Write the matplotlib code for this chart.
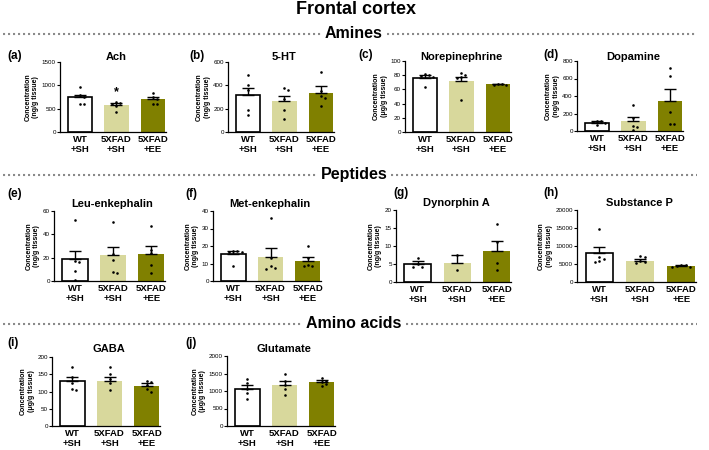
import matplotlib
matplotlib.use("Agg")
import matplotlib.pyplot as plt
import numpy as np

plt.rcParams['font.family'] = ['Liberation Sans', 'DejaVu Sans']

W, H = 709, 450

# ---------------- data ----------------
groups = ["WT\n+SH", "5XFAD\n+SH", "5XFAD\n+EE"]
bar_colors = ["white", "#d8d89c", "#808000"]

ach_mean = [748, 575, 700]
ach_sem = [52, 40, 55]
ach_pts = [[970, 790, 740, 610, 600], [650, 630, 610, 430, 565], [840, 760, 710, 600, 590]]
ach_star = [None, 850, None]

ht_mean = [315, 262, 335]
ht_sem = [60, 49, 57]
ht_pts = [[490, 400, 360, 185, 150], [380, 360, 285, 185, 110], [515, 350, 310, 290, 220]]

ne_mean = [76, 72.5, 67]
ne_sem = [4, 5.5, 0.6]
ne_pts = [[81, 80, 79, 78, 63], [83, 80, 78, 76, 45], [68, 67, 66.5, 66]]

da_mean = [93, 113, 347]
da_sem = [20, 52, 134]
da_pts = [[120, 110, 100, 90, 65], [300, 150, 55, 45, 15], [725, 625, 215, 85, 85]]

leu_mean = [18.5, 22, 23.3]
leu_sem = [7.5, 7, 6.7]
leu_pts = [[52, 17, 16, 8.5, 1], [51, 23, 18, 8, 7], [47, 27, 24, 13.5, 7]]

met_mean = [15.5, 14, 11.7]
met_sem = [1.8, 4.6, 2]
met_pts = [[17.2, 17, 16.8, 16.5, 8.7], [36, 13, 8.7, 7.5, 6.8], [19.8, 13, 9, 8.8, 8.5]]

dyn_mean = [5.0, 5.35, 8.7]
dyn_sem = [0.7, 2.15, 2.8]
dyn_pts = [[6.7, 5, 4.3, 4.2], [7.5, 3.2], [16, 11, 5.4, 3.2]]

sp_mean = [8100, 5950, 4480]
sp_sem = [1500, 450, 250]
sp_pts = [[14700, 7000, 6300, 5800, 5500], [7100, 6900, 5800, 5500, 5200], [4800, 4700, 4500, 4300, 4200]]

gaba_mean = [130, 131, 117]
gaba_sem = [11, 11, 7]
gaba_pts = [[172, 143, 124, 107, 103], [170, 150, 135, 125, 105], [130, 127, 118, 108, 100]]

glu_mean = [1065, 1185, 1252]
glu_sem = [100, 90, 50]
glu_pts = [[1355, 1232, 1043, 929, 758], [1479, 1290, 1166, 1060, 900], [1370, 1300, 1260, 1200, 1130]]

panels = [
    # label, title, unit, ymax, ystep, mean, sem, pts, rect(l,t,r,b), label pos, star
    ("(a)", "Ach", "ng/g", 1500, 500, ach_mean, ach_sem, ach_pts, (60, 62, 166, 132), (7, 56), ach_star),
    ("(b)", "5-HT", "ng/g", 600, 200, ht_mean, ht_sem, ht_pts, (228, 62, 334, 132), (189, 56), None),
    ("(c)", "Norepinephrine", "μg/g", 100, 20, ne_mean, ne_sem, ne_pts, (405, 61, 511, 132), (358, 55), None),
    ("(d)", "Dopamine", "ng/g", 800, 200, da_mean, da_sem, da_pts, (577, 61, 683, 131), (543, 55), None),
    ("(e)", "Leu-enkephalin", "ng/g", 60, 20, leu_mean, leu_sem, leu_pts, (54, 211, 165, 281), (7, 194), None),
    ("(f)", "Met-enkephalin", "ng/g", 40, 10, met_mean, met_sem, met_pts, (213, 211, 321, 281), (185, 194), None),
    ("(g)", "Dynorphin A", "ng/g", 20, 5, dyn_mean, dyn_sem, dyn_pts, (396, 210, 511, 282), (393, 193), None),
    ("(h)", "Substance P", "ng/g", 20000, 5000, sp_mean, sp_sem, sp_pts, (577, 210, 696, 282), (543, 193), None),
    ("(i)", "GABA", "μg/g", 200, 50, gaba_mean, gaba_sem, gaba_pts, (52, 357, 160, 426), (7, 343), None),
    ("(j)", "Glutamate", "μg/g", 2000, 500, glu_mean, glu_sem, glu_pts, (227, 356, 335, 426), (185, 343), None),
]

sections = [("Amines", 34), ("Peptides", 175), ("Amino acids", 324)]

# ---------------- figure ----------------
fig = plt.figure(figsize=(W / 100, H / 100), dpi=100)


def fx(x):
    return x / W


def fy(y):
    return 1 - y / H


def swarm(vals, ymax, d=0.11):
    order = np.argsort(vals)[::-1]
    placed = []
    xs = np.zeros(len(vals))
    thr = 0.05 * ymax
    for i in order:
        v = vals[i]
        for off in [0, d, -d, 2 * d, -2 * d, 3 * d]:
            if all(not (abs(po - off) < 0.5 * d and abs(pv - v) < thr) for po, pv in placed):
                xs[i] = off
                placed.append((off, v))
                break
    return xs


fig.text(fx(356), fy(10), "Frontal cortex", ha="center", va="center",
         fontsize=13, fontweight="bold")

fig.canvas.draw()
renderer = fig.canvas.get_renderer()
for name, yc in sections:
    t = fig.text(fx(354), fy(yc - 1), name, ha="center", va="center",
                 fontsize=11.5, fontweight="bold")
    bb = t.get_window_extent(renderer)
    x0, x1 = bb.x0, bb.x1
    for (a, b) in [(3, x0 - 4), (x1 + 4, 697)]:
        fig.add_artist(plt.Line2D([fx(a), fx(b)], [fy(yc), fy(yc)],
                                  transform=fig.transFigure, color="#8a8a8a",
                                  lw=1.5, linestyle=(0, (1, 1.4))))

xpos = np.arange(len(groups))
for (lab, title, unit, ymax, ystep, mean, sem, pts, rect, lpos, star) in panels:
    l, t, r, b = rect
    ax = fig.add_axes([fx(l), fy(b), fx(r - l), (b - t) / H])
    ax.bar(xpos, mean, width=0.68, color=bar_colors, edgecolor=["black", bar_colors[1], bar_colors[2]],
           linewidth=[1.2, 0, 0], zorder=2)
    ax.errorbar(xpos, mean, yerr=[np.zeros(3), sem], fmt="none", ecolor="black",
                elinewidth=1.0, capsize=4, capthick=1.0, zorder=3)
    for k in range(3):
        xs = swarm(pts[k], ymax)
        ax.scatter(xpos[k] + xs, pts[k], s=3.5, color="black", zorder=4, linewidths=0)
    if star is not None:
        for k, sv in enumerate(star):
            if sv is not None:
                ax.text(xpos[k], sv, "*", ha="center", va="center", fontsize=9,
                        fontweight="bold", zorder=5)
    ax.set_xlim(-0.55, 2.36)
    ax.set_ylim(0, ymax)
    ax.set_yticks(np.arange(0, ymax + ystep / 2, ystep))
    ax.set_yticklabels([f"{int(v)}" for v in np.arange(0, ymax + ystep / 2, ystep)])
    ax.set_xticks(xpos)
    ax.set_xticklabels(groups, fontsize=6.8, fontweight="bold", linespacing=1.15)
    ax.tick_params(axis="x", length=0, pad=2)
    ax.tick_params(axis="y", length=2, width=0.8, labelsize=4.5, pad=1)
    for s in ["top", "right"]:
        ax.spines[s].set_visible(False)
    for s in ["left", "bottom"]:
        ax.spines[s].set_linewidth(0.9)
    ax.set_ylabel(f"Concentration\n({unit} tissue)", fontsize=5, fontweight="bold",
                  labelpad=2, linespacing=1.1)
    ax.patch.set_alpha(0)
    ty = {62: 57, 61: 57, 211: 204, 210: 203, 357: 349, 356: 349}[t]
    fig.text(fx((l + r) / 2 + 3), fy(ty), title, ha="center", va="center",
             fontsize=8, fontweight="bold")
    fig.text(fx(lpos[0]), fy(lpos[1]), lab, ha="left", va="center",
             fontsize=8.5, fontweight="bold")

fig.savefig("out.png", dpi=100)
